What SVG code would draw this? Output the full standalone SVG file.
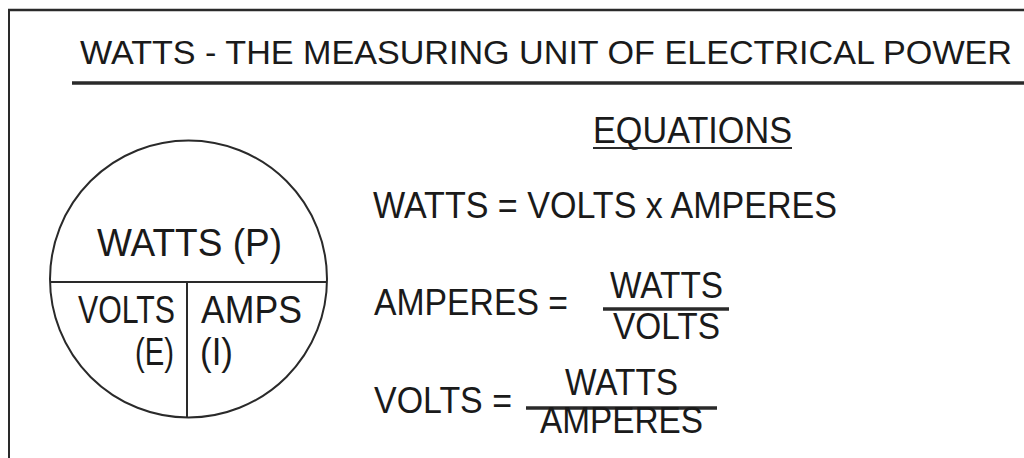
<svg xmlns="http://www.w3.org/2000/svg" width="1024" height="458" viewBox="0 0 1024 458">
<style>
  text { font-family: "Liberation Sans", Arial, sans-serif; fill: #1a1a1a; }
  .hd { font-size: 34px; }
  .eq { font-size: 36px; }
  .ci { font-size: 38px; }
  .ln { stroke: #2a2a2a; fill: none; }
</style>
<rect x="0" y="0" width="1024" height="458" fill="#ffffff"/>
<g id="frame">
  <line class="ln" x1="8" y1="10" x2="1024" y2="10" stroke="#000" stroke-width="2.5"/>
  <line class="ln" x1="9" y1="9" x2="9" y2="458" stroke="#000" stroke-width="2"/>
</g>
<g id="title">
  <text class="hd" x="80" y="64" textLength="932" lengthAdjust="spacingAndGlyphs">WATTS - THE MEASURING UNIT OF ELECTRICAL POWER</text>
  <line class="ln" x1="72" y1="83" x2="1024" y2="83" stroke-width="3.5"/>
</g>
<g id="circle">
  <circle class="ln" cx="188.5" cy="279" r="138.5" stroke-width="2"/>
  <line class="ln" x1="50" y1="282" x2="327" y2="282" stroke-width="2"/>
  <line class="ln" x1="187" y1="282" x2="187" y2="418" stroke-width="2"/>
  <text class="ci" x="97" y="256" textLength="185" lengthAdjust="spacingAndGlyphs">WATTS (P)</text>
  <text class="ci" x="78" y="323" textLength="97" lengthAdjust="spacingAndGlyphs">VOLTS</text>
  <text class="ci" x="201" y="323" textLength="101" lengthAdjust="spacingAndGlyphs">AMPS</text>
  <text class="ci" x="135" y="365" textLength="39" lengthAdjust="spacingAndGlyphs">(E)</text>
  <text class="ci" x="200" y="365" textLength="33" lengthAdjust="spacingAndGlyphs">(I)</text>
</g>
<g id="equations">
  <text class="eq" x="593" y="143" textLength="199" lengthAdjust="spacingAndGlyphs">EQUATIONS</text>
  <line class="ln" x1="593" y1="148" x2="792" y2="148" stroke-width="2"/>
  <text class="eq" x="373" y="218" textLength="464" lengthAdjust="spacingAndGlyphs">WATTS = VOLTS x AMPERES</text>
  <text class="eq" x="374" y="315" textLength="194" lengthAdjust="spacingAndGlyphs">AMPERES =</text>
  <text class="eq" x="610" y="298" textLength="113" lengthAdjust="spacingAndGlyphs">WATTS</text>
  <line class="ln" x1="603" y1="309" x2="729" y2="309" stroke-width="3.5"/>
  <text class="eq" x="613" y="339" textLength="107" lengthAdjust="spacingAndGlyphs">VOLTS</text>
  <text class="eq" x="374" y="413" textLength="138" lengthAdjust="spacingAndGlyphs">VOLTS =</text>
  <text class="eq" x="565" y="395" textLength="113" lengthAdjust="spacingAndGlyphs">WATTS</text>
  <line class="ln" x1="526" y1="408" x2="717" y2="408" stroke-width="3.5"/>
  <text class="eq" x="540" y="433" textLength="163" lengthAdjust="spacingAndGlyphs">AMPERES</text>
</g>
</svg>
